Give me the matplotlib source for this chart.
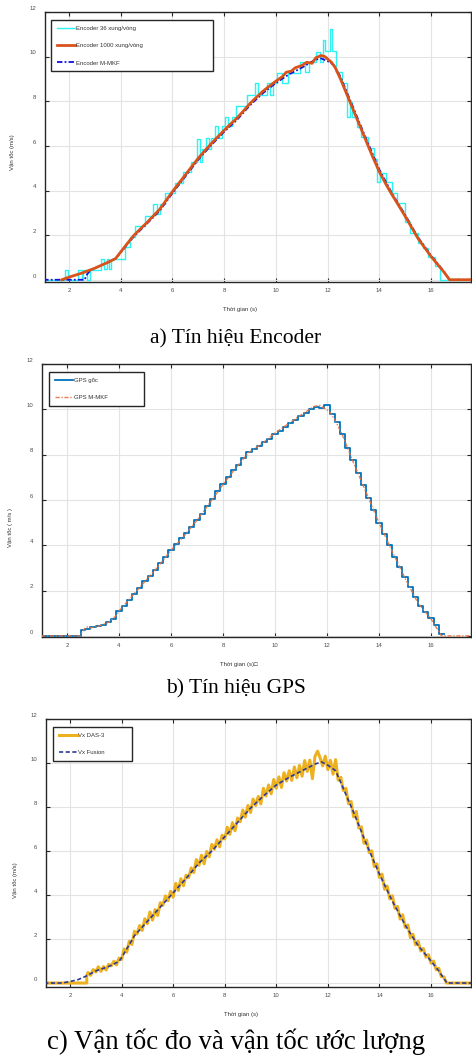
import numpy as np
import matplotlib
matplotlib.use('Agg')
import matplotlib.pyplot as plt
import matplotlib.transforms as mtransforms

# ---- panel a: encoder ----
enc36_t = [1.00, 1.85, 1.97, 2.36, 2.49, 2.55, 2.68, 2.80, 3.25, 3.35,
           3.45, 3.55, 3.62, 4.15, 4.35, 4.55, 4.95, 5.25, 5.40, 5.50,
           5.70, 6.10, 6.40, 6.70, 6.95, 7.05, 7.15, 7.30, 7.40, 7.50,
           7.65, 7.75, 7.90, 8.05, 8.15, 8.30, 8.45, 8.88, 9.20, 9.32,
           9.64, 9.77, 9.90, 10.05, 10.22, 10.47, 10.92, 11.11, 11.30, 11.55,
           11.71, 11.81, 11.91, 12.10, 12.19, 12.32, 12.57, 12.76, 12.86, 12.95,
           13.15, 13.30, 13.55, 13.80, 13.90, 14.03, 14.28, 14.48, 14.67, 14.99,
           15.19, 15.51, 15.70, 15.90, 16.15, 16.35, 17.60]
enc36_v = [0, 0.45, 0, 0.45, 0, 0.45, 0, 0.45, 0.95, 0.48,
           0.95, 0.48, 0.95, 1.45, 1.93, 2.40, 2.88, 3.40, 2.95, 3.40,
           3.88, 4.35, 4.85, 5.30, 6.30, 5.30, 5.85, 6.35, 5.85, 6.35,
           6.90, 6.35, 6.90, 7.30, 6.90, 7.30, 7.79, 8.28, 8.80, 8.28,
           8.80, 8.28, 8.80, 9.28, 8.80, 9.28, 9.78, 9.30, 9.78, 10.22,
           9.78, 10.75, 10.27, 11.22, 10.27, 9.30, 8.80, 7.30, 7.95, 7.30,
           6.85, 6.40, 5.90, 5.40, 4.36, 4.78, 4.36, 3.88, 3.43, 2.60,
           2.10, 1.64, 1.42, 1.04, 0.60, 0.0, 0.0]

enc1000_t = [1.72, 2.0, 2.5, 3.0, 3.5, 3.8, 4.0, 4.25, 4.5, 4.75,
             5.0, 5.25, 5.5, 5.75, 6.0, 6.25, 6.5, 6.75, 7.0, 7.25,
             7.5, 7.75, 8.0, 8.25, 8.5, 8.75, 9.0, 9.25, 9.5, 9.75,
             10.0, 10.25, 10.4, 10.6, 10.75, 11.0, 11.2, 11.4, 11.55, 11.75,
             11.9, 12.0, 12.15, 12.3, 12.5, 12.75, 13.0, 13.25, 13.5, 13.75,
             14.0, 14.25, 14.5, 14.75, 15.0, 15.25, 15.5, 15.75, 16.0, 16.25,
             16.5, 16.72, 17.6]
enc1000_v = [0.0, 0.12, 0.3, 0.52, 0.78, 0.95, 1.25, 1.62, 1.98, 2.27,
             2.55, 2.85, 3.15, 3.55, 3.95, 4.33, 4.7, 5.08, 5.45, 5.78,
             6.1, 6.4, 6.7, 6.98, 7.25, 7.57, 7.9, 8.18, 8.45, 8.68,
             8.9, 9.1, 9.3, 9.35, 9.5, 9.6, 9.75, 9.7, 9.95, 10.05,
             10.0, 9.9, 9.75, 9.5, 9.0, 8.3, 7.6, 6.9, 6.2, 5.5,
             4.85, 4.3, 3.8, 3.33, 2.85, 2.35, 1.85, 1.45, 1.05, 0.7,
             0.35, 0.0, 0.0]

mkf_t = [1.0, 2.6, 2.7, 2.85, 3.0, 3.5, 3.8, 4.0, 4.5, 5.0,
         5.5, 6.0, 6.5, 7.0, 7.5, 8.0, 8.5, 9.0, 9.5, 10.0,
         10.5, 11.0, 11.5, 11.75, 12.0, 12.25, 12.5, 13.0, 13.5, 14.0,
         14.5, 15.0, 15.5, 16.0, 16.5, 16.72, 17.6]
mkf_v = [0, 0, 0.25, 0.45, 0.52, 0.78, 0.95, 1.22, 1.93, 2.5,
         3.08, 3.88, 4.63, 5.38, 6.03, 6.63, 7.17, 7.82, 8.36, 8.82,
         9.2, 9.5, 9.85, 9.92, 9.8, 9.62, 9.1, 7.7, 6.3, 4.95,
         3.86, 2.92, 1.9, 1.09, 0.38, 0.0, 0.0]

# ---- panel b: GPS (0.2 s samples from 2.6 s) ----
gps_t0, gps_dt = 2.6, 0.2
gps_v = [0.25, 0.3, 0.38, 0.42, 0.5, 0.6, 0.75, 1.1, 1.3, 1.6,
         1.85, 2.1, 2.4, 2.65, 2.9, 3.2, 3.5, 3.8, 4.05, 4.3,
         4.55, 4.8, 5.1, 5.4, 5.75, 6.05, 6.4, 6.7, 7.0, 7.3,
         7.55, 7.85, 8.1, 8.25, 8.4, 8.55, 8.7, 8.9, 9.05, 9.2,
         9.4, 9.55, 9.7, 9.85, 10.0, 10.1, 10.05, 10.2, 9.8, 9.45,
         8.9, 8.3, 7.75, 7.2, 6.65, 6.1, 5.55, 5.0, 4.5, 4.0,
         3.5, 3.05, 2.6, 2.15, 1.7, 1.3, 1.05, 0.8, 0.5, 0.1]

gmkf_t = [1.0, 2.5, 2.6, 2.75, 2.9, 3.2, 3.6, 3.9, 4.0, 4.5,
          5.0, 5.5, 6.0, 6.5, 7.0, 7.5, 8.0, 8.5, 9.0, 9.5,
          10.0, 10.5, 11.0, 11.5, 11.7, 11.9, 12.1, 12.3, 12.6, 13.0,
          13.5, 14.0, 14.5, 15.0, 15.5, 16.0, 16.3, 16.4, 17.6]
gmkf_v = [0, 0, 0.2, 0.4, 0.35, 0.42, 0.6, 0.9, 1.1, 1.75,
          2.4, 3.05, 3.78, 4.4, 5.1, 5.88, 6.68, 7.42, 8.1, 8.48,
          8.95, 9.35, 9.75, 10.12, 10.18, 10.05, 9.9, 9.55, 8.85, 7.7,
          6.35, 5.0, 3.75, 2.55, 1.45, 0.75, 0.2, 0.0, 0.0]

# ---- panel c: DAS-3 (0.1 s samples from 2.7 s) and fusion ----
das_t0, das_dt = 2.7, 0.1
das_v = [0.48, 0.35, 0.61, 0.50, 0.74, 0.53, 0.75, 0.59, 0.85, 0.78,
         0.99, 0.82, 1.13, 1.07, 1.55, 1.40, 1.90, 1.75, 2.35, 2.23,
         2.61, 2.39, 2.92, 2.70, 3.23, 2.86, 3.34, 3.07, 3.65, 3.53,
         3.96, 3.74, 4.17, 3.90, 4.53, 4.21, 4.74, 4.42, 4.90, 4.79,
         5.23, 5.02, 5.61, 5.35, 5.81, 5.42, 5.98, 5.74, 6.30, 6.08,
         6.51, 6.19, 6.72, 6.55, 7.08, 6.76, 7.29, 6.92, 7.50, 7.33,
         7.86, 7.54, 8.07, 7.75, 8.36, 8.07, 8.48, 8.14, 8.85, 8.50,
         9.00, 8.60, 9.25, 8.85, 9.37, 8.89, 9.56, 9.18, 9.65, 9.21,
         9.82, 9.33, 9.89, 9.40, 10.11, 9.62, 10.13, 9.29, 10.30, 10.54,
         10.23, 9.87, 10.31, 9.70, 10.12, 9.49, 10.15, 9.22, 9.35, 8.75,
         8.85, 8.15, 8.25, 7.55, 7.80, 7.05, 7.10, 6.35, 6.50, 5.93,
         6.01, 5.29, 5.42, 4.80, 4.95, 4.26, 4.41, 3.82, 3.97, 3.40,
         3.48, 2.91, 3.10, 2.53, 2.64, 2.06, 2.22, 1.74, 1.90, 1.46,
         1.57, 1.18, 1.29, 0.90, 1.00, 0.60, 0.67, 0.29, 0.28, 0.0]
das_jump_t = 2.65

fus_t = [1.0, 1.7, 2.0, 2.3, 2.6, 3.0, 3.5, 3.9, 4.0, 4.5,
         5.0, 5.5, 6.0, 6.5, 7.0, 7.5, 8.0, 8.5, 9.0, 9.5,
         10.0, 10.5, 11.0, 11.5, 11.75, 12.0, 12.3, 12.56, 13.0, 13.5,
         14.0, 14.5, 15.0, 15.5, 16.0, 16.3, 16.62, 17.6]
fus_v = [0, 0, 0.07, 0.15, 0.3, 0.55, 0.75, 0.98, 1.15, 2.15,
         2.8, 3.45, 4.1, 4.75, 5.45, 6.0, 6.65, 7.3, 7.95, 8.5,
         9.0, 9.35, 9.65, 9.95, 10.05, 9.9, 9.65, 8.95, 7.75, 6.3,
         4.95, 3.72, 2.63, 1.7, 1.0, 0.55, 0.0, 0.0]

xticks = [2, 4, 6, 8, 10, 12, 14, 16]
yticks = [0, 2, 4, 6, 8, 10, 12]

W, H = 472, 1057
fig = plt.figure(figsize=(W / 100, H / 100), dpi=100)
sans = 'Liberation Sans'
serif = 'Liberation Serif'


def px_axes(l, t, r, b):
    return fig.add_axes([l / W, 1 - b / H, (r - l) / W, (b - t) / H])


def style(ax, xlim, ylim, ylab, xlab, ylab_xy):
    ax.set_xlim(*xlim)
    ax.set_ylim(*ylim)
    ax.set_xticks(xticks)
    ax.set_yticks(yticks)
    ax.grid(True, color='#e3e3e3', lw=0.8)
    ax.set_axisbelow(True)
    for s in ax.spines.values():
        s.set_color('#262626')
        s.set_linewidth(1.0)
    ax.tick_params(direction='in', length=3, width=0.8, color='#262626',
                   top=True, right=True, labelsize=4.3, labelcolor='#4d4d4d')
    ax.tick_params(axis='x', pad=4.5)
    ax.tick_params(axis='y', pad=6.5)
    for lab in ax.get_xticklabels() + ax.get_yticklabels():
        lab.set_family(sans)
    ax.set_xlabel(xlab, fontsize=4.3, color='#333333', family=sans)
    ax.xaxis.set_label_coords(0.458, -0.092)
    ax.set_ylabel(ylab, fontsize=4.3, color='#333333', family=sans)
    ax.yaxis.set_label_coords(*ylab_xy)
    off = mtransforms.ScaledTranslation(0, 3 / 72, fig.dpi_scale_trans)
    for tk in ax.yaxis.get_major_ticks():
        tk.label1.set_transform(tk.label1.get_transform() + off)


def legend(ax, x0, top, w):
    lg = ax.legend(loc='upper left', bbox_to_anchor=(x0, top - 0.01, w, 0.01),
                   mode='expand', borderaxespad=0, fancybox=False,
                   edgecolor='#262626', framealpha=1, handlelength=3.0,
                   handletextpad=0.25, labelspacing=2.0, borderpad=1.0,
                   prop={'family': sans, 'size': 4.3})
    lg.get_frame().set_linewidth(1.0)
    for t in lg.get_texts():
        t.set_color('#333333')


# panel a
axa = px_axes(45, 12, 471, 282)
axa.step(enc36_t, enc36_v, where='post', color='#2df2f2', lw=1.0,
         label='Encoder 36 xung/vòng', zorder=2)
axa.plot(enc1000_t, enc1000_v, color='#d95319', lw=2.0,
         label='Encoder 1000 xung/vòng', zorder=4)
axa.plot(mkf_t, mkf_v, color='#1010e0', lw=1.3, ls=(0, (3, 1.2, 1, 1.2)),
         label='Encoder M-MKF', zorder=3)
style(axa, (1.07, 17.55), (-0.1, 12), 'Vận tốc (m/s)', 'Thời gian (s)',
      (-0.070, 0.48))
legend(axa, 0.014, 0.970, 0.380)

# panel b
gps_t = [1.0, 2.5] + [round(gps_t0 + gps_dt * i, 2) for i in range(len(gps_v))] + [16.5]
gps_vv = [0.0, 0.0] + gps_v + [gps_v[-1]]
axb = px_axes(42, 364, 471, 637)
axb.step(gps_t, gps_vv, where='mid', color='#0072bd', lw=1.3,
         label='GPS gốc', zorder=3)
axb.plot(gmkf_t, gmkf_v, color='#e8703a', lw=1.0, ls=(0, (3, 1.2, 1, 1.2)),
         label='GPS M-MKF', zorder=4, alpha=0.9)
style(axb, (1.04, 17.54), (-0.05, 12), 'Vận tốc ( m/s )', 'Thời gian (s)\u25a1',
      (-0.068, 0.40))
legend(axb, 0.016, 0.971, 0.221)

# panel c
das_t = [1.0, das_jump_t, das_jump_t] + \
    [round(das_t0 + das_dt * i, 2) for i in range(len(das_v))] + [16.7, 17.6]
das_vv = [0.0, 0.0, 0.35] + das_v + [0.0, 0.0]
axc = px_axes(46, 719, 471, 987)
axc.plot(das_t, das_vv, color='#edb120', lw=2.2, label='Vx DAS-3', zorder=2)
axc.plot(fus_t, fus_v, color='#2a3a9a', lw=1.2, ls=(0, (2.5, 1.5)),
         label='Vx Fusion', zorder=3)
style(axc, (1.07, 17.55), (-0.18, 12), 'Vận tốc (m/s)', 'Thời gian (s)',
      (-0.066, 0.40))
legend(axc, 0.016, 0.970, 0.186)

# captions
fig.text(0.5, 1 - 339 / H, 'a) Tín hiệu Encoder', ha='center', va='center',
         family=serif, fontsize=15.5)
fig.text(0.5, 1 - 689 / H, 'b) Tín hiệu GPS', ha='center', va='center',
         family=serif, fontsize=15.5)
fig.text(0.5, 1 - 1042 / H, 'c) Vận tốc đo và vận tốc ước lượng', ha='center',
         va='center', family=serif, fontsize=19.3)

fig.savefig('out.png', dpi=100)
